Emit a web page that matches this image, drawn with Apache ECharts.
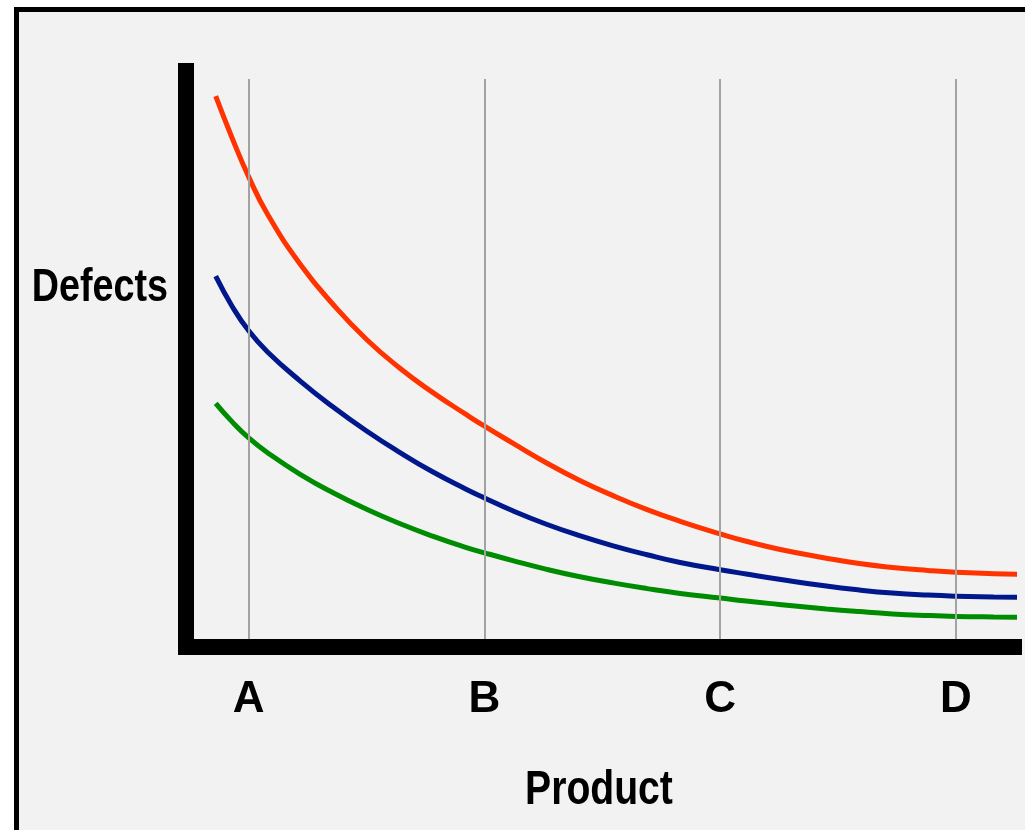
<!DOCTYPE html>
<html>
<head>
<meta charset="utf-8">
<script src="https://cdn.jsdelivr.net/npm/echarts@6/dist/echarts.min.js"></script>
<style>
  html, body { margin: 0; padding: 0; background: #ffffff; overflow: hidden; }
  #frame { position: absolute; left: 14px; top: 7px; width: 1100px; height: 900px; border: 5px solid #000; background: #f2f2f2; }
  #chart { position: absolute; left: 0; top: 0; width: 1025px; height: 830px; }
</style>
</head>
<body>
<div id="frame"></div>
<div id="chart"></div>
<script>
// Category ticks on the product axis
const categories = ['A', 'B', 'C', 'D'];
const categoryPositions = [1, 2, 3, 4];

// Sample positions along the product axis
const xs = [0.86, 0.93, 1.0, 1.08, 1.22, 1.36, 1.5, 1.64, 1.78, 1.92, 2.0, 2.12, 2.26, 2.4, 2.55, 2.69, 2.83, 3.0, 3.11, 3.25, 3.45, 3.59, 3.73, 3.88, 4.0, 4.16, 4.26];

// Defect curves
const redValues   = [91.8, 84.8, 78.36, 72.12, 63.72, 57.0, 51.26, 46.5, 42.44, 38.8, 36.8, 33.98, 30.75, 27.85, 25.15, 22.9, 20.95, 18.85, 17.62, 16.3, 14.8, 13.9, 13.25, 12.75, 12.45, 12.22, 12.12];
const blueValues  = [61.8, 56.76, 52.7, 49.18, 44.28, 39.94, 36.0, 32.45, 29.2, 26.35, 24.85, 22.7, 20.5, 18.6, 16.82, 15.37, 14.08, 12.88, 12.17, 11.3, 10.15, 9.5, 9.0, 8.65, 8.47, 8.35, 8.3];
const greenValues = [40.6, 37.52, 34.86, 32.38, 28.74, 25.66, 22.96, 20.58, 18.48, 16.62, 15.7, 14.4, 12.98, 11.75, 10.64, 9.73, 8.93, 8.15, 7.65, 7.1, 6.35, 5.9, 5.52, 5.25, 5.1, 5.0, 4.97];

const FONT = "'Liberation Sans', Arial, sans-serif";

function pairs(vals) { return xs.map((x, i) => [x, vals[i]]); }

const chart = echarts.init(document.getElementById('chart'), null, { renderer: 'canvas' });

const lineSeries = (name, vals, color, extra) => Object.assign({
  name: name,
  type: 'line',
  data: pairs(vals),
  smooth: 0.5,
  showSymbol: false,
  symbol: 'none',
  clip: false,
  lineStyle: { color: color, width: 5 },
  itemStyle: { color: color },
  emphasis: { disabled: true },
  z: 2
}, extra || {});

chart.setOption({
  animation: false,
  backgroundColor: 'transparent',
  grid: { left: 186, right: 11, top: 71, bottom: 183, containLabel: false },
  xAxis: {
    type: 'value',
    min: 0.734,
    max: 4.246,
    z: 10,
    axisLine: { show: true, onZero: false, lineStyle: { color: '#000', width: 16, cap: 'square' } },
    axisTick: { show: false },
    splitLine: { show: false },
    axisLabel: {
      customValues: categoryPositions,
      formatter: function (v) { return categories[categoryPositions.indexOf(v)] || ''; },
      color: '#000',
      fontFamily: FONT,
      fontWeight: 'bold',
      fontSize: 44,
      margin: 31
    }
  },
  yAxis: {
    type: 'value',
    min: 0,
    max: 96,
    z: 10,
    axisLine: { show: true, onZero: false, lineStyle: { color: '#000', width: 16, cap: 'square' } },
    axisTick: { show: false },
    axisLabel: { show: false },
    splitLine: { show: false }
  },
  graphic: [{
    type: 'text',
    x: 168,
    y: 288,
    scaleX: 0.82,
    style: {
      text: 'Defects',
      fill: '#000',
      font: 'bold 46px ' + FONT,
      align: 'right',
      verticalAlign: 'middle'
    }
  }, {
    type: 'text',
    x: 599,
    y: 791,
    scaleX: 0.815,
    style: {
      text: 'Product',
      fill: '#000',
      font: 'bold 48px ' + FONT,
      align: 'center',
      verticalAlign: 'middle'
    }
  }],
  series: [
    lineSeries('Green', greenValues, '#008c00', {
      markLine: {
        silent: true,
        symbol: ['none', 'none'],
        label: { show: false },
        lineStyle: { color: '#a3a3a3', width: 2, type: 'solid' },
        emphasis: { disabled: true },
        data: categoryPositions.map(v => [{ coord: [v, 94.67] }, { coord: [v, 0] }])
      }
    }),
    lineSeries('Blue', blueValues, '#00188c'),
    lineSeries('Red', redValues, '#ff3300')
  ]
});
</script>
</body>
</html>
